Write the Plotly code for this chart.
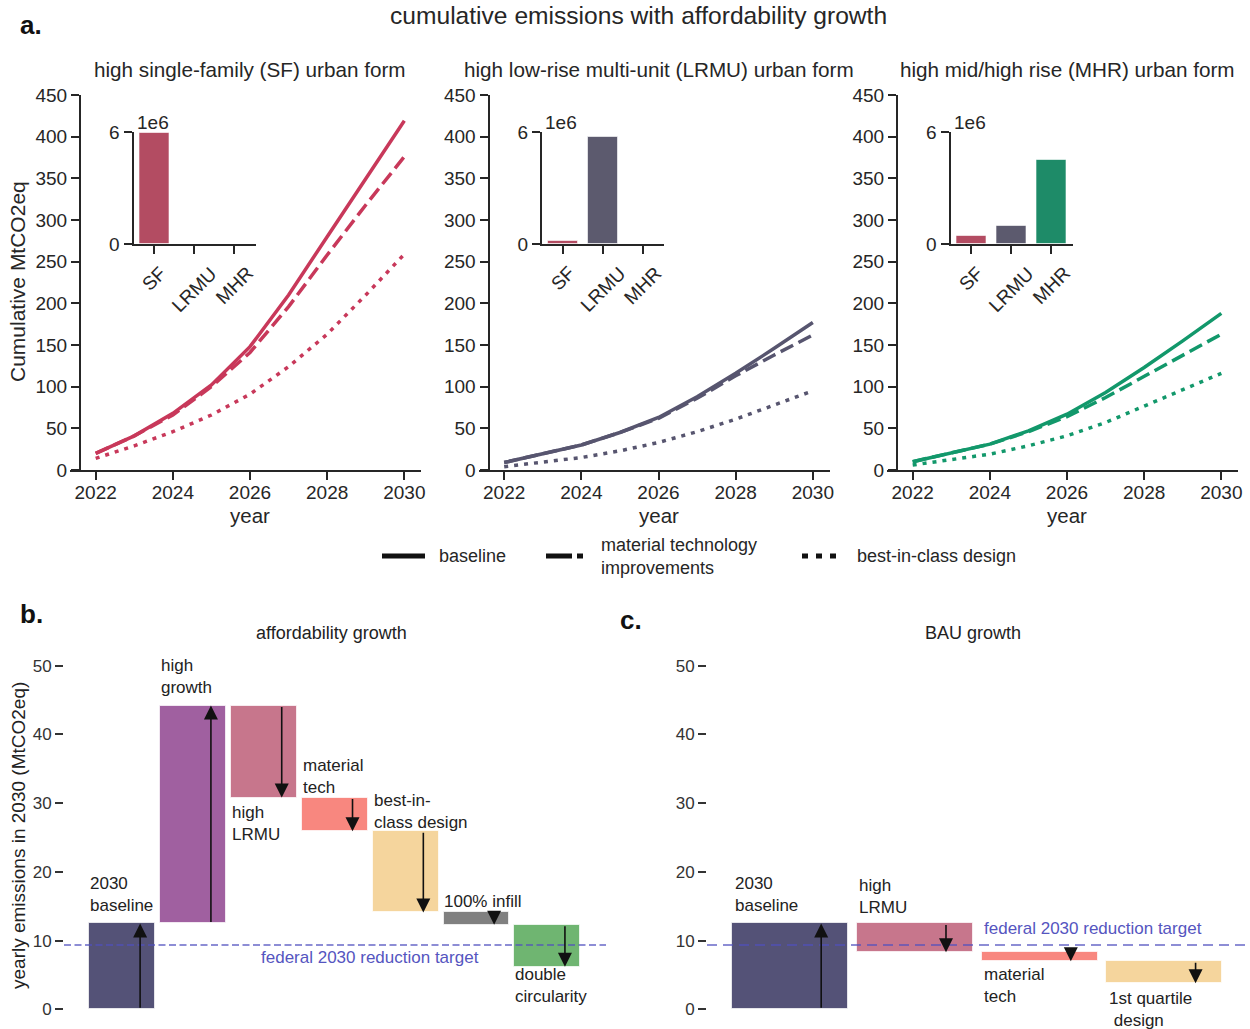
import plotly.graph_objects as go

W, H = 1250, 1029
def fx(px): return px / W
def fy(py): return 1 - py / H

# ---------------- data ----------------
years = [2022, 2023, 2024, 2025, 2026, 2027, 2028, 2029, 2030]
sf_baseline = [20, 41, 68, 102, 148, 210, 280, 349, 419]
sf_material = [20, 41, 66, 100, 141, 196, 258, 318, 376]
sf_best = [14, 29, 46, 66, 91, 124, 163, 210, 259]
lrmu_baseline = [9, 19, 30, 45, 63, 88, 116, 146, 177]
lrmu_material = [9, 19, 30, 45, 62, 86, 113, 138, 162]
lrmu_best = [4, 9, 15, 23, 33, 46, 61, 78, 95]
mhr_baseline = [10, 20, 31, 47, 67, 93, 123, 155, 188]
mhr_material = [10, 20, 31, 46, 64, 87, 112, 138, 163]
mhr_best = [6, 12, 19, 29, 41, 57, 77, 96, 116]

inset_categories = ["SF", "LRMU", "MHR"]
inset_sf_form = [5.95e6, 0, 0]
inset_lrmu_form = [0.2e6, 5.75e6, 0]
inset_mhr_form = [0.43e6, 1.0e6, 4.48e6]

panel_titles = ["high single-family (SF) urban form",
                "high low-rise multi-unit (LRMU) urban form",
                "high mid/high rise (MHR) urban form"]
scenario_names = ["baseline", "material technology<br>improvements", "best-in-class design"]
x_ticks = [2022, 2024, 2026, 2028, 2030]
y_ticks = [0, 50, 100, 150, 200, 250, 300, 350, 400, 450]

b_labels = ["2030<br>baseline", "high<br>growth", "high<br>LRMU", "material<br>tech",
            "best-in-<br>class design", "100% infill", "double<br>circularity"]
b_steps = [12.5, 31.7, -13.4, -4.9, -11.8, -1.8, -6.1]
c_labels = ["2030<br>baseline", "high<br>LRMU", "material<br>tech", "1st quartile<br>\u00a0design"]
c_steps = [12.5, -4.2, -1.3, -3.2]
federal_target = 9.35
bottom_y_ticks = [0, 10, 20, 30, 40, 50]

# ---------------- styles ----------------
FONT = "Liberation Sans, Arial, sans-serif"
INK = "#262626"
line_colors = ["#c8385a", "#57556f", "#12986b"]
bar_colors = ["#b34c62", "#5c5a6e", "#1e8b68"]
b_colors = ["#545277", "#a060a0", "#c7768c", "#f8877f", "#f5d59d", "#808080", "#6fb571"]
c_colors = ["#545277", "#c7768c", "#f8877f", "#f5d59d"]
dashes = ["solid", "14px,6px", "4px,6px"]

fig = go.Figure()
layout = {}
annotations = []
shapes = []

series = [[sf_baseline, sf_material, sf_best],
          [lrmu_baseline, lrmu_material, lrmu_best],
          [mhr_baseline, mhr_material, mhr_best]]
insets = [inset_sf_form, inset_lrmu_form, inset_mhr_form]

for i in range(3):
    L = 70 + 408.5 * i
    xn, yn = f"x{i+1}" if i else "x", f"y{i+1}" if i else "y"
    for s, vals in enumerate(series[i]):
        fig.add_trace(go.Scatter(x=years, y=vals, mode="lines",
                                 line=dict(color=line_colors[i], width=3.5, dash=dashes[s]),
                                 xaxis=xn, yaxis=yn, showlegend=False))
    ax_common = dict(showgrid=False, zeroline=False, showline=True, linewidth=2,
                     linecolor=INK, ticks="outside", ticklen=8, tickwidth=2, tickcolor=INK,
                     tickfont=dict(size=19, color=INK, family=FONT))
    layout[f"xaxis{i+1}" if i else "xaxis"] = dict(
        domain=[fx(L), fx(L + 351)], range=[2021.334, 2030.432], anchor=yn,
        tickvals=x_ticks, ticklabelstandoff=-4, **ax_common)
    layout[f"yaxis{i+1}" if i else "yaxis"] = dict(
        domain=[fy(470), fy(95)], range=[0, 450], anchor="free", position=fx(L + 10),
        tickvals=y_ticks, **ax_common)

    # inset
    IL = L + 63.5
    k = i + 4
    fig.add_trace(go.Bar(x=inset_categories, y=insets[i], marker=dict(color=bar_colors,
                         line=dict(color="rgba(255,255,255,0.6)", width=1)),
                         width=0.75, xaxis=f"x{k}", yaxis=f"y{k}", showlegend=False))
    layout[f"xaxis{k}"] = dict(domain=[fx(IL), fx(IL + 122)], range=[-0.52, 2.53],
                               type="category", anchor=f"y{k}", showticklabels=False,
                               **ax_common)
    layout[f"yaxis{k}"] = dict(domain=[fy(244.3), fy(132)], range=[0, 6e6], anchor=f"x{k}",
                               tickvals=[0, 6e6], ticktext=["0", "6"], **ax_common)
    for cat in inset_categories:
        annotations.append(dict(text=cat, x=cat, y=fy(260), xref=f"x{k}", yref="paper",
                                xanchor="center", yanchor="top", textangle=-45,
                                showarrow=False, font=dict(size=19, color=INK, family=FONT)))
    annotations.append(dict(text="1e6", x=fx(IL + 1), y=fy(122), xref="paper", yref="paper",
                            xanchor="left", yanchor="middle", showarrow=False,
                            font=dict(size=19, color=INK, family=FONT)))
    annotations.append(dict(text=panel_titles[i], x=fx(L + 180), y=fy(70), xref="paper",
                            yref="paper", xanchor="center", yanchor="middle", showarrow=False,
                            font=dict(size=20.7, color=INK, family=FONT)))
    annotations.append(dict(text="year", x=fx(L + 180), y=fy(515), xref="paper", yref="paper",
                            xanchor="center", yanchor="middle", showarrow=False,
                            font=dict(size=20.5, color=INK, family=FONT)))

# ---------------- waterfalls ----------------
def waterfall(steps, labels, colors, k, label_offsets, lab_dx, target_text_pos, dash):
    starts, ends = [], []
    cur = 0.0
    for st in steps:
        starts.append(cur)
        cur = cur + st
        ends.append(cur)
    idx = list(range(len(steps)))
    bases = [min(a, b) for a, b in zip(starts, ends)]
    heights = [abs(b - a) for a, b in zip(starts, ends)]
    fig.add_trace(go.Bar(x=idx, y=heights, base=bases, width=0.93,
                         marker=dict(color=colors, line=dict(color="rgba(255,255,255,0.7)", width=1)),
                         xaxis=f"x{k}", yaxis=f"y{k}", showlegend=False))
    for j in idx:
        annotations.append(dict(x=j + 0.25, y=ends[j], ax=j + 0.25, ay=starts[j],
                                xref=f"x{k}", yref=f"y{k}", axref=f"x{k}", ayref=f"y{k}",
                                text="", showarrow=True, arrowhead=2, arrowsize=1.75,
                                arrowwidth=1.6, arrowcolor="#111111", standoff=0))
        off = label_offsets[j]
        edge = max(starts[j], ends[j]) if off > 0 else min(starts[j], ends[j])
        annotations.append(dict(text=labels[j], x=j + lab_dx, y=edge + off,
                                xref=f"x{k}", yref=f"y{k}", xanchor="left", yanchor="middle",
                                align="left", showarrow=False,
                                font=dict(size=17, color="#222222", family=FONT)))
    shapes.append(dict(type="line", xref=f"x{k} domain", x0=0, x1=1, yref=f"y{k}",
                       y0=federal_target, y1=federal_target,
                       line=dict(color="rgba(80,80,190,0.65)", width=2, dash=dash)))
    annotations.append(dict(text="federal 2030 reduction target", x=target_text_pos[0],
                            y=target_text_pos[1], xref=f"x{k}", yref=f"y{k}",
                            xanchor="center", yanchor="middle", showarrow=False,
                            font=dict(size=17, color="#5555c0", family=FONT)))

bottom_y = dict(domain=[fy(1020), fy(650)], range=[-1.557, 52.28], showgrid=False,
                zeroline=False, showline=False, ticks="outside", ticklen=8, tickwidth=1.6,
                tickcolor="#333333", tickvals=bottom_y_ticks,
                tickfont=dict(size=17, color="#333333", family=FONT))
layout["xaxis7"] = dict(domain=[fx(64), fx(606)], range=[-0.825, 6.83], visible=False, anchor="y7")
layout["yaxis7"] = dict(anchor="x7", **bottom_y)
layout["xaxis8"] = dict(domain=[fx(707), fx(1248)], range=[-0.665, 3.67], visible=False, anchor="y8")
layout["yaxis8"] = dict(anchor="x8", **bottom_y)

waterfall(b_steps, b_labels, b_colors, 7, [4.2, 4.2, -3.8, 3.1, 2.9, 1.6, -2.7], -0.48,
          (3.5, 7.6), "7px,3.5px")
waterfall(c_steps, c_labels, c_colors, 8, [4.2, 3.9, -3.6, -3.9], -0.46,
          (2.43, 11.8), "10px,6px")

# ---------------- titles & labels ----------------
def ptext(text, x, y, size, angle=0, bold=False, anchor="center", color=INK):
    annotations.append(dict(text=f"<b>{text}</b>" if bold else text, x=fx(x), y=fy(y),
                            xref="paper", yref="paper", xanchor=anchor, yanchor="middle",
                            align=anchor if anchor != "center" else "center",
                            showarrow=False, textangle=angle,
                            font=dict(size=size, color=color, family=FONT)))

ptext("cumulative emissions with affordability growth", 638, 15, 24.6)
ptext("a.", 18, 25, 26, bold=True, anchor="left", color="#111111")
ptext("b.", 18, 614, 26, bold=True, anchor="left", color="#111111")
ptext("c.", 618, 620, 26, bold=True, anchor="left", color="#111111")
ptext("Cumulative MtCO2eq", 18, 282, 21, angle=-90)
ptext("affordability growth", 331, 633, 18, color="#222222")
ptext("BAU growth", 973, 633, 18, color="#222222")
ptext("yearly emissions in 2030 (MtCO2eq)", 18, 836, 19, angle=-90, color="#222222")

# legend
legend_geom = [(382, 425, "solid", 437), (546, 583, "26px,5px", 599), (802, 838, "6px,8px", 855)]
for (x0, x1, d, tx), name in zip(legend_geom, scenario_names):
    shapes.append(dict(type="line", xref="paper", yref="paper", x0=fx(x0), x1=fx(x1),
                       y0=fy(556), y1=fy(556), line=dict(color="#111111", width=5, dash=d)))
    ptext(name, tx, 556, 18, anchor="left")

fig.update_layout(**layout)
fig.update_layout(width=W, height=H,
                  margin=dict(l=0, r=0, t=0, b=0, pad=0, autoexpand=False),
                  plot_bgcolor="rgba(0,0,0,0)", paper_bgcolor="white",
                  font=dict(family=FONT, color=INK), showlegend=False,
                  annotations=annotations, shapes=shapes, bargap=0)
fig.write_html("out.html")
